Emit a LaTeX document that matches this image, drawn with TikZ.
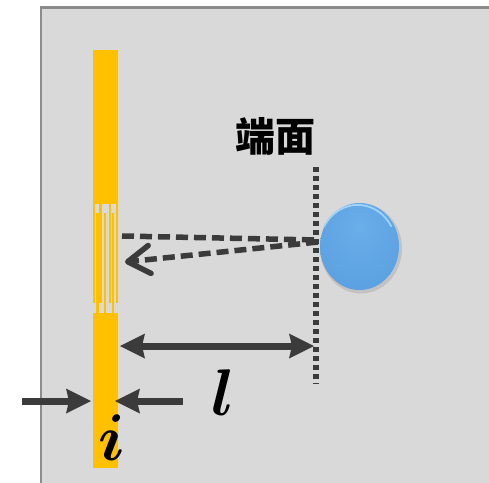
\documentclass[tikz,border=0pt]{standalone}
\usepackage{fix-cm}
\usepackage{amsmath}
\usepackage{fontspec}
\newfontfamily\cjk{Noto Sans CJK SC}
\usetikzlibrary{arrows.meta, shapes.geometric}

\definecolor{panel}{HTML}{D9D9D9}
\definecolor{panelrim}{HTML}{8C8C8C}
\definecolor{gauge}{HTML}{FFC000}
\definecolor{ink}{HTML}{3B3B3B}
\definecolor{ballhi}{HTML}{6AAEEA}
\definecolor{ballmid}{HTML}{589DDE}
\definecolor{ballrim}{HTML}{4A8ED3}
\definecolor{ballgloss}{HTML}{9FD3F7}

\pgfdeclareradialshading{ballshade}{\pgfpoint{0bp}{12bp}}{%
  color(0bp)=(ballhi); color(40bp)=(ballmid); color(58bp)=(ballrim); color(70bp)=(ballrim)}

\tikzset{
  wire/.style={gauge, line width=2.2pt},
  ray/.style={ink, line width=5.5pt, dash pattern=on 12pt off 6pt},
  dimline/.style={ink, line width=7pt},
  dimtip/.tip={Stealth[length=25pt, width=25pt, inset=3pt, line width=0pt]},
  facedots/.style={ink, line width=5.5pt, dash pattern=on 5pt off 4pt},
  biglabel/.style={inner sep=0pt, font=\fontsize{66}{66}\selectfont},
}

\begin{document}
\begin{tikzpicture}[x=1pt, y=-1pt]
\useasboundingbox (0,0) rectangle (489,482);
\fill[white] (0,0) rectangle (489,482);

% specimen panel
\fill[panel] (41,7.5) rectangle (500,500);
\draw[panelrim, line width=2.5pt] (41,500) -- (41,7.5) -- (500,7.5);

% strain gauge strip with its grid
\fill[gauge] (93,50) rectangle (118,203.5);
\fill[gauge] (93,312.5) rectangle (118,468);
\foreach \x in {94.1, 100.4, 109.6, 117} \draw[wire] (\x,203) -- (\x,303);
\foreach \x in {97.5, 104.7, 113.3} \draw[wire] (\x,213) -- (\x,313);

% end face
\coordinate (faceTop) at (316,167);
\coordinate (faceBot) at (316,384);
\draw[facedots] (faceTop) -- (faceBot);
\node[inner sep=0pt, font=\cjk\bfseries\fontsize{40}{40}\selectfont] (faceLabel) at (275,136) {端面};

% ball with a soft shadow and a light rim on top
\fill[black, opacity=0.10] (361,248.5) ellipse [x radius=41, y radius=45];
\node[ellipse, minimum width=79pt, minimum height=87pt, inner sep=0pt, shading=ballshade] (ball) at (359.5,246.5) {};
\draw[ballgloss, line width=1.8pt, line cap=round] (ball.150) arc[start angle=150, end angle=30, x radius=38.6pt, y radius=42.6pt];

% wave paths between gauge and end face
\coordinate (gOut) at (122,236);
\coordinate (fIn) at (318,240);
\coordinate (fOut) at (318,242);
\coordinate (gIn) at (125,262);
\draw[ray] (gOut) -- (fIn);
\draw[ray, -{Straight Barb[length=22pt, width=28pt, round]}] (fOut) -- (gIn);

% distance l
\coordinate (lA) at (120,346);
\coordinate (lB) at (314,346);
\draw[dimline, dimtip-dimtip] (lA) -- (lB);
\node[biglabel] (lLabel) at (223,393) {$\boldsymbol{l}$};

% gauge width i
\coordinate (iL0) at (22,401);
\coordinate (iL1) at (91,401);
\coordinate (iR0) at (183,401);
\coordinate (iR1) at (115,401);
\draw[dimline, -dimtip] (iL0) -- (iL1);
\draw[dimline, -dimtip] (iR0) -- (iR1);
\node[biglabel] (iLabel) at (112,438) {$\boldsymbol{i}$};
\end{tikzpicture}
\end{document}
